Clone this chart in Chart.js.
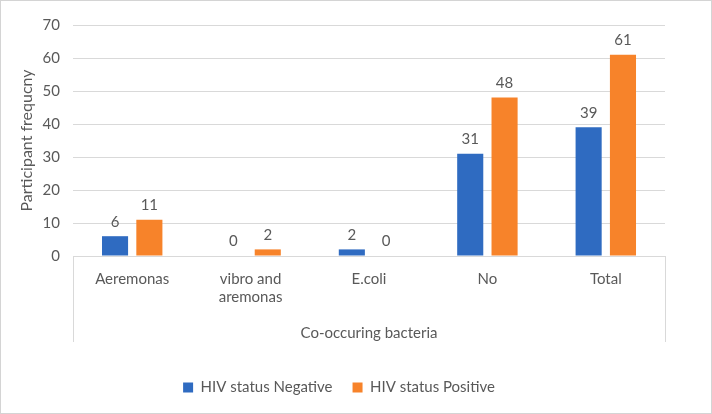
<!DOCTYPE html>
<html lang="en">
<head>
<meta charset="UTF-8">
<title>Co-occuring bacteria by HIV status</title>
<script src="https://cdn.jsdelivr.net/npm/chart.js"></script>
<style>
  html, body { margin: 0; padding: 0; background: #fff; }
  .frame { width: 712px; height: 414px; box-sizing: border-box; border: 1px solid #d4d4d4; }
  canvas { display: block; }
</style>
</head>
<body>
<div class="frame"><canvas id="chart" width="710" height="412"></canvas></div>
<script>
// data
const categories = ['Aeremonas', ['vibro and', 'aremonas'], 'E.coli', 'No', 'Total'];
const negative = [6, 0, 2, 31, 39];
const positive = [11, 2, 0, 48, 61];
const yTicks = [0, 10, 20, 30, 40, 50, 60, 70];

const textColor = '#595959';
const gridColor = '#d9d9d9';
const fontFamily = "Lato, 'Open Sans', 'Liberation Sans', sans-serif";

// value labels over the bars + the outer lines of the category box
const extras = {
  id: 'extras',
  afterDatasetsDraw(chart) {
    const ctx = chart.ctx;
    ctx.save();
    ctx.fillStyle = textColor;
    ctx.font = '15px ' + fontFamily;
    ctx.textAlign = 'center';
    ctx.textBaseline = 'bottom';
    chart.data.datasets.forEach((ds, i) => {
      chart.getDatasetMeta(i).data.forEach((bar, j) => {
        ctx.fillText(String(ds.data[j]), bar.x, bar.y - 7);
      });
    });
    ctx.restore();
  },
  afterDraw(chart) {
    const ctx = chart.ctx;
    const a = chart.chartArea;
    ctx.save();
    ctx.strokeStyle = gridColor;
    ctx.lineWidth = 1;
    ctx.beginPath();
    ctx.moveTo(Math.round(a.left) + 0.5, a.bottom);
    ctx.lineTo(Math.round(a.left) + 0.5, a.bottom + 86);
    ctx.moveTo(Math.round(a.right) + 0.5, a.bottom);
    ctx.lineTo(Math.round(a.right) + 0.5, a.bottom + 86);
    ctx.stroke();
    ctx.restore();
  }
};

new Chart(document.getElementById('chart').getContext('2d'), {
  type: 'bar',
  data: {
    labels: categories,
    datasets: [
      { label: 'HIV status Negative', data: negative, backgroundColor: '#2F6BC1' },
      { label: 'HIV status Positive', data: positive, backgroundColor: '#F7832A' }
    ]
  },
  options: {
    responsive: false,
    animation: false,
    categoryPercentage: 0.58,
    barPercentage: 0.76,
    layout: { padding: { top: 24, right: 46, left: 12, bottom: 8 } },
    plugins: {
      legend: {
        position: 'bottom',
        labels: { color: textColor, font: { family: fontFamily, size: 15 }, boxWidth: 10, boxHeight: 10, padding: 20 }
      },
      tooltip: { enabled: false }
    },
    scales: {
      y: {
        min: 0, max: 70,
        afterBuildTicks: s => { s.ticks = yTicks.map(v => ({ value: v })); },
        grid: { color: gridColor, drawTicks: false },
        border: { display: false },
        ticks: { color: textColor, font: { family: fontFamily, size: 15 }, padding: 13 },
        title: { display: true, text: 'Participant frequcny', color: textColor, font: { family: fontFamily, size: 16 }, padding: { bottom: 2 } },
        afterFit: s => { s.width = 60; }
      },
      x: {
        grid: { display: false },
        border: { color: gridColor },
        ticks: { color: textColor, font: { family: fontFamily, size: 15 }, padding: 6, maxRotation: 0 },
        title: { display: true, text: 'Co-occuring bacteria', color: textColor, font: { family: fontFamily, size: 15 }, padding: { top: 14, bottom: 18 } },
        afterFit: s => { s.height = 104; }
      }
    }
  },
  plugins: [extras]
});
</script>
</body>
</html>
